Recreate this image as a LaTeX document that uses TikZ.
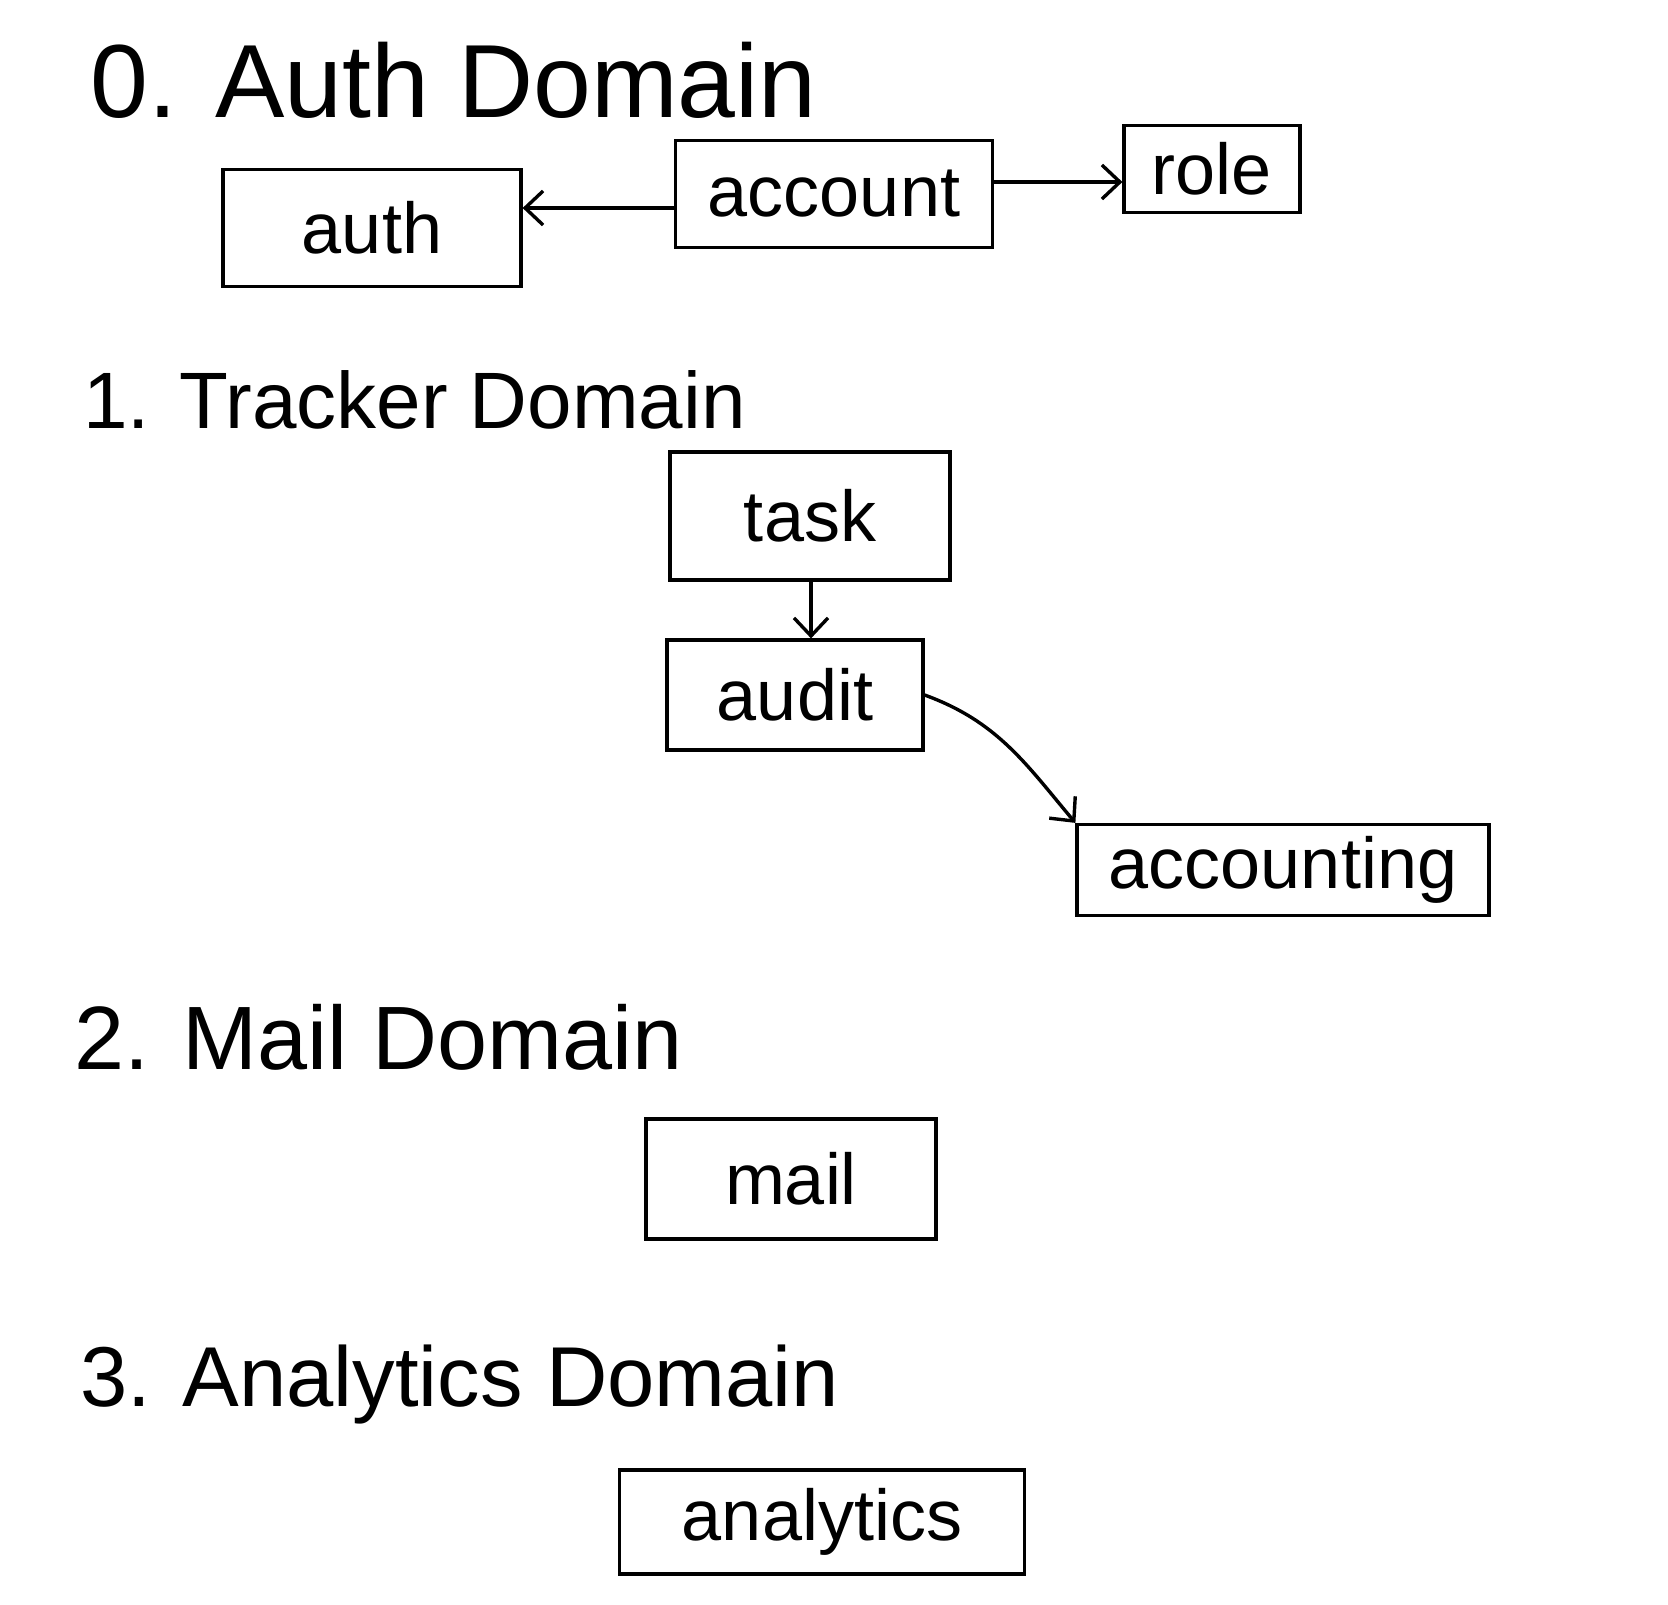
\documentclass[tikz,border=0pt]{standalone}
\usepackage{fontspec}
\setmainfont{Liberation Sans}
\usetikzlibrary{arrows.meta}
\begin{document}
\begin{tikzpicture}[x=1pt,y=-1pt,
  every node/.style={inner sep=0pt},
  box/.style={draw,line width=3.2pt,font=\fontsize{72}{86}\selectfont},
  title/.style={anchor=base west},
  conn/.style={draw,line width=3.4pt,-{Straight Barb[length=18pt,width=34pt]}}]
\useasboundingbox (0,0) rectangle (1668,1605);
% section titles
\node[title,font=\fontsize{104}{120}\selectfont] (t0) at (90,118) {0. Auth Domain};
\node[title,font=\fontsize{80}{96}\selectfont] (t1) at (83,428) {1. Tracker Domain};
\node[title,font=\fontsize{90}{104}\selectfont] (t2) at (74,1069) {2. Mail Domain};
\node[title,font=\fontsize{85}{100}\selectfont] (t3) at (80,1406) {3. Analytics Domain};
% boxes
\node[box,minimum width=298pt,minimum height=117pt] (auth) at (372,228) {auth};
\node[box,minimum width=317pt,minimum height=107pt] (account) at (834,194) {account};
\node[box,minimum width=176pt,minimum height=87pt] (role) at (1212,169) {role};
\node[box,minimum width=280pt,minimum height=128pt] (task) at (810,516) {task};
\node[box,minimum width=256pt,minimum height=110pt] (audit) at (795,695) {audit};
\node[box,minimum width=412pt,minimum height=91pt] (accounting) at (1283,870) {accounting};
\node[box,minimum width=290pt,minimum height=120pt] (mail) at (791,1179) {mail};
\node[box,minimum width=405pt,minimum height=104pt] (analytics) at (822,1522) {analytics};
% connectors
\path[conn] ([yshift=-14pt]account.west) -- ([yshift=-14pt]auth.east |- account.west);
\path[conn] ([yshift=12pt]account.east) -- ([yshift=12pt]role.west |- account.east);
\path[conn] (task.south -| 811,0) -- (audit.north -| 811,0);
\path[conn] (audit.east) to[out=-20,in=130] (accounting.north west);
\end{tikzpicture}
\end{document}
